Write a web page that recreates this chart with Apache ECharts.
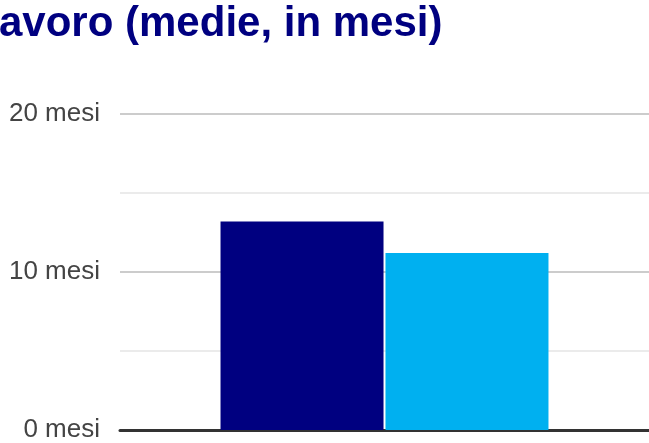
<!DOCTYPE html>
<html>
<head>
<meta charset="utf-8">
<script src="https://cdn.jsdelivr.net/npm/echarts@6/dist/echarts.min.js"></script>
<style>
html,body{margin:0;padding:0;background:#fff;}
#chart{width:649px;height:443px;}
</style>
</head>
<body>
<div id="chart"></div>
<script>
var titleText = 'avoro (medie, in mesi)';
var categories = [''];
var seriesNames = ['Serie A', 'Serie B'];
var valuesA = [13.2];
var valuesB = [11.2];
var tickLabels = {0: '0 mesi', 10: '10 mesi', 20: '20 mesi'};

var chart = echarts.init(document.getElementById('chart'));
chart.setOption({
  animation: false,
  backgroundColor: '#fff',
  title: {
    text: titleText,
    left: -1,
    top: 3,
    padding: 0,
    textStyle: {
      fontFamily: 'Liberation Sans, Arial, sans-serif',
      fontSize: 42,
      fontWeight: 'bold',
      color: '#000080'
    }
  },
  grid: { left: 120, right: -6, top: 114, bottom: 12, containLabel: false },
  xAxis: {
    type: 'category',
    data: categories,
    axisLine: { lineStyle: { color: '#333333', width: 3 } },
    axisTick: { show: false },
    axisLabel: { show: false }
  },
  yAxis: {
    type: 'value',
    min: 0,
    max: 20,
    interval: 5,
    axisLine: { show: false },
    axisTick: { show: false },
    axisLabel: {
      margin: 20,
      fontFamily: 'Liberation Sans, Arial, sans-serif',
      fontSize: 26,
      color: '#444444',
      formatter: function (v) { return tickLabels[v] || ''; }
    },
    splitLine: { lineStyle: { color: ['#cccccc', '#ebebeb'], width: 2 } }
  },
  series: [
    {
      name: seriesNames[0],
      type: 'bar',
      data: valuesA,
      barWidth: 163,
      barGap: '1.2%',
      itemStyle: { color: '#000080' }
    },
    {
      name: seriesNames[1],
      type: 'bar',
      data: valuesB,
      barWidth: 163,
      itemStyle: { color: '#00b0f0' }
    }
  ]
});
</script>
</body>
</html>
